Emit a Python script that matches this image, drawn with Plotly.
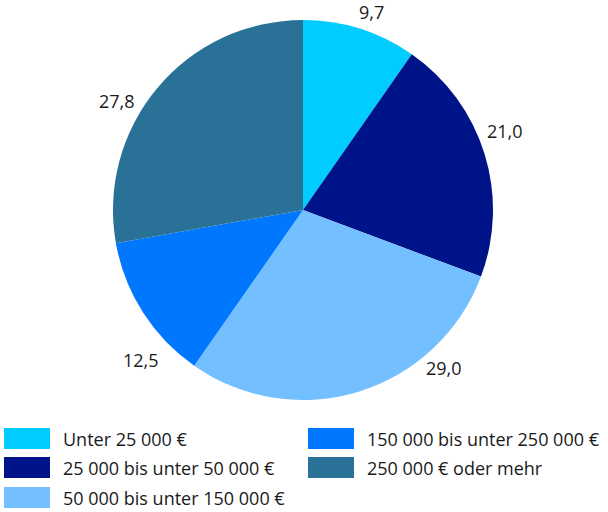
import plotly.graph_objects as go

categories = [
    "Unter 25 000 €",
    "25 000 bis unter 50 000 €",
    "50 000 bis unter 150 000 €",
    "150 000 bis unter 250 000 €",
    "250 000 € oder mehr",
]
values = [9.7, 21.0, 29.0, 12.5, 27.8]
value_labels = ["9,7", "21,0", "29,0", "12,5", "27,8"]
colors = ["#00CCFF", "#001489", "#73BFFF", "#0077FF", "#297196"]

# label positions (pixels from top-left of the 608x512 canvas)
label_px = [(371, 12), (505, 131), (444, 368), (141, 360), (117, 101)]
# legend layout: (swatch left x, swatch top y) in pixels
legend_pos = [(4, 428), (4, 457), (4, 487), (308, 428), (308, 457)]

W, H = 608, 512

fig = go.Figure()
fig.add_trace(go.Pie(
    values=values,
    labels=categories,
    marker=dict(colors=colors, line=dict(width=0)),
    sort=False,
    direction="clockwise",
    rotation=0,
    textinfo="none",
    hoverinfo="label+value",
    showlegend=False,
    domain=dict(x=[113 / W, 493 / W], y=[1 - 400 / H, 1 - 20 / H]),
))

font = dict(family="Open Sans", size=18, color="#1a1a1a")
annotations = []
for (x, y), t in zip(label_px, value_labels):
    annotations.append(dict(x=x / W, y=1 - y / H, xref="paper", yref="paper",
                            text=t, showarrow=False, font=font,
                            xanchor="center", yanchor="middle"))
shapes = []
for (x, y), c, cat in zip(legend_pos, colors, categories):
    shapes.append(dict(type="rect", xref="paper", yref="paper",
                       x0=x / W, x1=(x + 46) / W, y0=1 - (y + 21) / H, y1=1 - y / H,
                       fillcolor=c, line=dict(width=0)))
    annotations.append(dict(x=(x + 57) / W, y=1 - (y + 10.5) / H, xref="paper", yref="paper",
                            text=cat, showarrow=False, font=font,
                            xanchor="left", yanchor="middle"))

fig.update_layout(
    width=W, height=H,
    margin=dict(l=0, r=0, t=0, b=0),
    paper_bgcolor="white", plot_bgcolor="white",
    annotations=annotations, shapes=shapes,
)
fig.write_html("out.html", config={"displayModeBar": False},
               post_script="document.body.style.margin='0';document.body.style.overflow='hidden';")
